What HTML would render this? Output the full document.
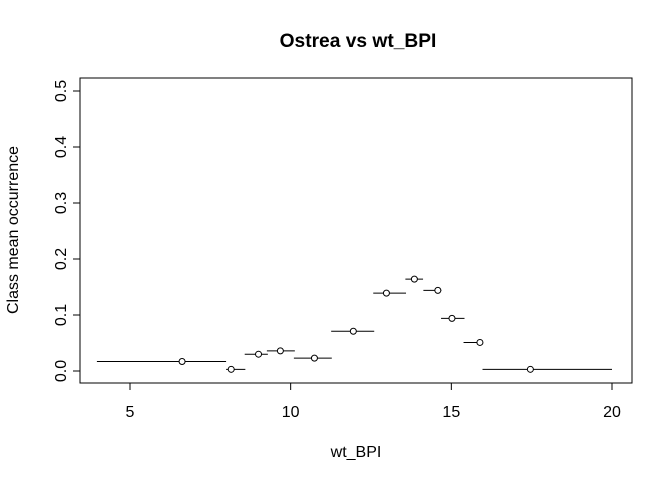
<!DOCTYPE html>
<html><head><meta charset="utf-8"><style>body{margin:0;background:#fff}svg{display:block;font-family:"Liberation Sans",Arial,sans-serif}</style></head>
<body>
<svg id="chart" width="672" height="480">
<rect width="672" height="480" fill="#fff"/>
<text x="358" y="47" text-anchor="middle" font-weight="bold" font-size="19.2">Ostrea vs wt_BPI</text>
<rect x="80" y="78" width="552" height="305" fill="none" stroke="#000"/>
<text x="356" y="457" text-anchor="middle" font-size="16">wt_BPI</text>
<text transform="translate(18,230) rotate(-90)" text-anchor="middle" font-size="16">Class mean occurrence</text>
<g id="axes"></g><g id="marks"></g>
</svg>
<script>
const xLow=[3.97,7.99,8.57,9.26,10.1,11.26,12.57,13.57,14.13,14.68,15.38,15.97];
const xHigh=[7.99,8.59,9.29,10.13,11.28,12.6,13.59,14.12,14.69,15.41,15.88,20.0];
const xMean=[6.62,8.15,9.0,9.68,10.74,11.95,12.98,13.85,14.58,15.02,15.89,17.46];
const yVals=[0.017,0.003,0.030,0.036,0.023,0.071,0.139,0.164,0.144,0.094,0.051,0.003];
const xTicks=[5,10,15,20];
const yTicks=[0.0,0.1,0.2,0.3,0.4,0.5];
const yTickLabels=["0.0","0.1","0.2","0.3","0.4","0.5"];
const NS="http://www.w3.org/2000/svg";
function X(v){return 130+(v-5)*(482/15);}
function Y(v){return 371-v*560;}
function mk(t,a,p){const e=document.createElementNS(NS,t);for(const k in a)e.setAttribute(k,a[k]);p.appendChild(e);return e;}
const ax=document.getElementById('axes'),mg=document.getElementById('marks');
mk('line',{x1:X(5),x2:X(20),y1:383,y2:383,stroke:'#000'},ax);
xTicks.forEach(t=>{const l=mk('line',{x1:X(t),x2:X(t),y1:383,y2:390,stroke:'#000'},ax);


const s=mk('text',{x:X(t),y:417,'text-anchor':'middle','font-size':16},ax);s.textContent=t;

});
mk('line',{x1:80,x2:80,y1:Y(0),y2:Y(0.5),stroke:'#000'},ax);
yTicks.forEach((t,i)=>{const l=mk('line',{x1:73,x2:80,y1:Y(t),y2:Y(t),stroke:'#000'},ax);


const s=mk('text',{transform:`translate(${66},${Y(t)}) rotate(-90)`,'text-anchor':'middle','font-size':16},ax);s.textContent=yTickLabels[i];

});
yVals.forEach((v,i)=>{const l=mk('line',{x1:X(xLow[i]),x2:X(xHigh[i]),y1:Y(v),y2:Y(v),stroke:'#000'},mg);


const c=mk('circle',{cx:X(xMean[i]),cy:Y(v),r:3,fill:'#fff',stroke:'#000'},mg);

});
</script>
</body></html>
